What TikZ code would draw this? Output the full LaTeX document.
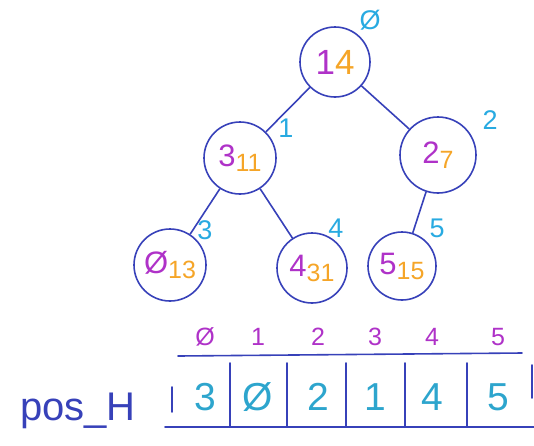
\documentclass[tikz,border=0pt]{standalone}
\usepackage{fontspec}
\setmainfont{Liberation Sans}
\definecolor{ln}{RGB}{55,65,185}
\definecolor{mg}{RGB}{175,50,200}
\definecolor{og}{RGB}{245,165,40}
\definecolor{cy}{RGB}{40,170,225}
\definecolor{tl}{RGB}{45,165,205}
\tikzset{
  hn/.style={circle,draw=ln,line width=1.6pt,inner sep=0pt},
  edg/.style={draw=ln,line width=1.6pt},
  idx/.style={text=cy,font=\fontsize{27}{27}\selectfont},
  top/.style={text=mg,font=\fontsize{25}{25}\selectfont},
  val/.style={text=tl,font=\fontsize{39}{39}\selectfont},
  arr/.style={draw=ln,line width=1.6pt,line cap=round}
}
\newcommand{\kv}[2]{\textcolor{mg}{\fontsize{31}{31}\selectfont #1}\raisebox{-5pt}{\textcolor{og}{\fontsize{25}{25}\selectfont #2}}}
\begin{document}
\begin{tikzpicture}[x=1pt,y=-1pt]
\useasboundingbox (0,0) rectangle (534,445);
% tree nodes
\node[hn,minimum size=70pt] (r) at (335,62) {\textcolor{mg}{\fontsize{35}{35}\selectfont 1}\textcolor{og}{\fontsize{35}{35}\selectfont 4}};
\node[hn,minimum size=72pt] (n1) at (240,158) {\kv{3}{11}};
\node[hn,minimum size=76pt] (n2) at (438,155) {\kv{2}{7}};
\node[hn,minimum size=72pt] (n3) at (170,265) {\kv{Ø}{13}};
\node[hn,minimum size=70pt] (n4) at (312,268) {\kv{4}{31}};
\node[hn,minimum size=68pt] (n5) at (402,266) {\kv{5}{15}};
% edges
\draw[edg] (r) -- (n1);
\draw[edg] (r) -- (n2);
\draw[edg] (n1) -- (n3);
\draw[edg] (n1) -- (n4);
\draw[edg] (n2) -- (n5);
% index labels
\node[idx] (i0) at (370,20) {Ø};
\node[idx] (i1) at (286,128) {1};
\node[idx] (i2) at (490,120) {2};
\node[idx] (i3) at (205,230) {3};
\node[idx] (i4) at (336,228) {4};
\node[idx] (i5) at (437,228) {5};
% array
\node[text=ln,font=\fontsize{40}{40}\selectfont] (lab) at (78,411) {pos\_H};
\draw[arr] (178,356) -- (522,353);
\draw[arr] (165,427) -- (534,427);
\draw[arr] (172,387) -- (172,412);
\foreach \x in {230,287,346,405,467}{\draw[arr] (\x,363) -- (\x,427);}
\draw[arr] (532,365) -- (532,398);
\foreach \x/\v/\i [count=\k from 0] in {205/3/Ø,258/Ø/1,318/2/2,375/1/3,432/4/4,498/5/5}{
  \node[val] (c\k) at (\x,397) {\v};
  \node[top] (t\k) at (\x,337) {\i};
}
\end{tikzpicture}
\end{document}
